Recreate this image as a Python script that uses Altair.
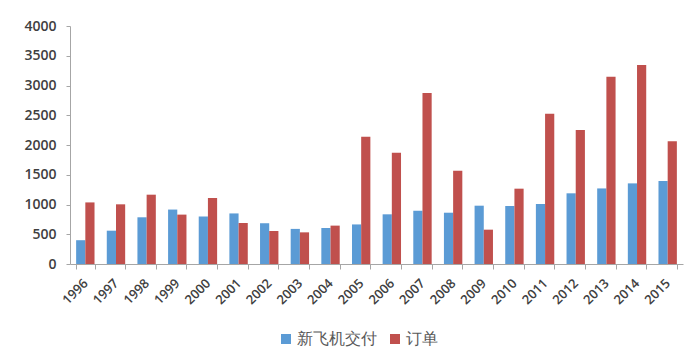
import altair as alt
import pandas as pd

years = [str(y) for y in range(1996, 2016)]
deliveries = [400, 560, 785, 915, 800, 850, 685, 590, 605, 665,
              835, 895, 862, 980, 975, 1008, 1188, 1270, 1355, 1395]
orders = [1035, 1003, 1165, 830, 1110, 690, 555, 532, 645, 2140,
          1870, 2875, 1568, 577, 1266, 2527, 2252, 3147, 3343, 2062]
series = ["新飞机交付", "订单"]
colors = ["#5B9BD5", "#C0504D"]

rows = []
for i, y in enumerate(years):
    rows.append({"year": y, "series": series[0], "value": deliveries[i]})
    rows.append({"year": y, "series": series[1], "value": orders[i]})
df = pd.DataFrame(rows)

font = "Open Sans"

chart = alt.Chart(df).mark_bar().encode(
    x=alt.X("year:N", sort=years, title=None,
            scale=alt.Scale(paddingInner=0.4, paddingOuter=0.2),
            axis=alt.Axis(labelAngle=-45, labelAlign="right", labelBaseline="middle",
                          labelFontSize=13, labelFont=font, labelColor="#404040",
                          labelFontWeight=600,
                          tickBand="extent", tickSize=5, tickColor="#A6A6A6",
                          domainColor="#A6A6A6", labelPadding=12, grid=False)),
    xOffset=alt.XOffset("series:N", sort=series),
    y=alt.Y("value:Q", title=None,
            scale=alt.Scale(domain=[0, 4000], nice=False),
            axis=alt.Axis(values=list(range(0, 4001, 500)), format="d", labelFontSize=14,
                          labelFont=font, labelColor="#404040", labelFontWeight=600,
                          tickSize=4, tickColor="#A6A6A6", domainColor="#A6A6A6",
                          labelPadding=10, grid=False)),
    color=alt.Color("series:N", sort=series,
                    scale=alt.Scale(domain=series, range=colors),
                    legend=alt.Legend(title=None, orient="none", direction="horizontal",
                                      legendX=208, legendY=305, symbolType="square",
                                      symbolSize=100, labelFontSize=16, labelFont=font,
                                      labelColor="#595959", columnPadding=10,
                                      labelOffset=3, symbolStrokeWidth=0)),
).properties(
    width=613, height=238,
    autosize=alt.AutoSizeParams(type="none"),
    padding={"left": 62, "top": 18, "right": 6, "bottom": 86},
).configure_view(stroke=None)

chart.save("out.html", embed_options={"renderer": "svg", "actions": False})
